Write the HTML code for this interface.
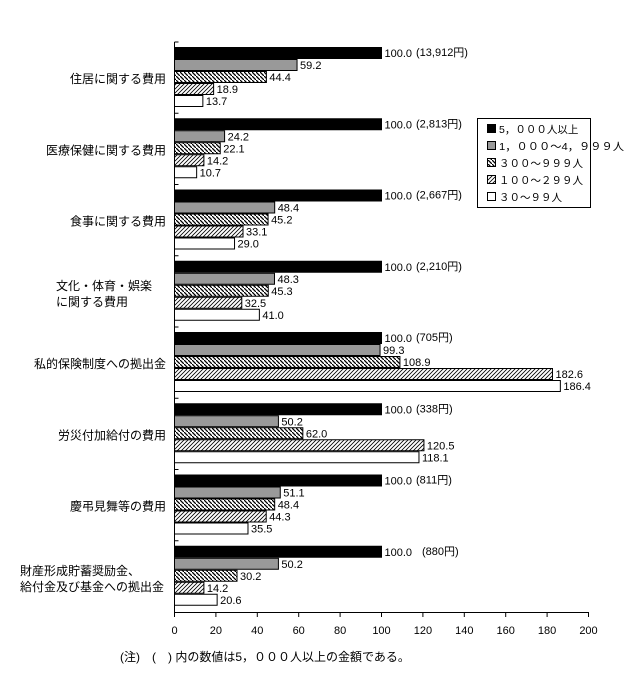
<!DOCTYPE html>
<html><head><meta charset="utf-8">
<style>
body{margin:0;background:#fff;}
svg text{font-family:"Liberation Sans","Noto Sans CJK JP",sans-serif;fill:#000;}
</style></head>
<body>
<svg id="s" width="641" height="669" xmlns="http://www.w3.org/2000/svg">
<defs>
<pattern id="hd" width="4" height="4" patternUnits="userSpaceOnUse">
<rect width="4" height="4" fill="#fff"/>
<path d="M-1,1 L1,-1 M0,0 L4,4 M3,5 L5,3" stroke="#000" stroke-width="1.3"/>
</pattern>
<pattern id="hl" width="4" height="4" patternUnits="userSpaceOnUse">
<rect width="4" height="4" fill="#fff"/>
<path d="M-1,1 L1,-1 M0,4 L4,0 M3,5 L5,3" stroke="#000" stroke-width="0.8"/>
</pattern>
</defs>
</svg>
<script>
const s=document.getElementById('s');
let h='';
const X0=174.5,K=2.07;
const fills=['#000','#999','url(#hd)','url(#hl)','#fff'];
const data=[
 [[100,59.2,44.4,18.9,13.7],'(13,912円)',['住居に関する費用']],
 [[100,24.2,22.1,14.2,10.7],'(2,813円)',['医療保健に関する費用']],
 [[100,48.4,45.2,33.1,29.0],'(2,667円)',['食事に関する費用']],
 [[100,48.3,45.3,32.5,41.0],'(2,210円)',['文化・体育・娯楽','に関する費用']],
 [[100,99.3,108.9,182.6,186.4],'(705円)',['私的保険制度への拠出金']],
 [[100,50.2,62.0,120.5,118.1],'(338円)',['労災付加給付の費用']],
 [[100,51.1,48.4,44.3,35.5],'(811円)',['慶弔見舞等の費用']],
 [[100,50.2,30.2,14.2,20.6],'(880円)',['財産形成貯蓄奨励金、','給付金及び基金への拠出金']]
];
data.forEach((g,i)=>{
 const top=42+71.25*i;
 h+=`<line x1="${X0}" y1="${top}" x2="${X0+4}" y2="${top}" stroke="#000"/>`;
 g[0].forEach((v,j)=>{
  const y=top+5+j*12, w=v*K;
  h+=`<rect x="${X0}" y="${y+0.5}" width="${w}" height="11" fill="${fills[j]}" stroke="#000" stroke-width="1"/>`;
  h+=`<text x="${X0+w+3}" y="${y+10}" font-size="11">${v.toFixed(1)}</text>`;
 });
 h+=`<text x="${i==7?422:416}" y="${top+14}" font-size="11">${g[1]}</text>`;
 const cy=top+36;
 if(g[2].length==1){h+=`<text x="166" y="${cy+5}" font-size="12" text-anchor="end">${g[2][0]}</text>`;}
 else if(i==3){h+=`<text x="56" y="${cy-2}" font-size="12">${g[2][0]}</text><text x="56" y="${cy+14}" font-size="12">${g[2][1]}</text>`;}
 else{h+=`<text x="20" y="${cy-2}" font-size="12">${g[2][0]}</text><text x="20" y="${cy+14}" font-size="12">${g[2][1]}</text>`;}
});
h+=`<line x1="${X0}" y1="42" x2="${X0}" y2="612.5" stroke="#000"/>`;
h+=`<line x1="${X0}" y1="612.5" x2="588" y2="612.5" stroke="#000"/>`;
for(let t=0;t<=200;t+=20){const x=X0+t*K;h+=`<line x1="${x}" y1="612" x2="${x}" y2="617" stroke="#000"/><text x="${x}" y="634" font-size="11" text-anchor="middle">${t}</text>`;}
h+=`<text x="120" y="661" font-size="12">(注)　(　) 内の数値は5，０００人以上の金額である。</text>`;
h+=`<rect x="477.5" y="118.5" width="113" height="89" fill="#fff" stroke="#000"/>`;
const leg=['5，０００人以上','1，０００～4，９９９人','３００～９９９人','１００～２９９人','３０～９９人'];
leg.forEach((l,j)=>{const y=124+j*17;h+=`<rect x="487.5" y="${y+0.5}" width="8" height="8" fill="${fills[j]}" stroke="#000"/><text x="499" y="${y+9}" font-size="10.5" ${j==1?'textLength="125" lengthAdjust="spacingAndGlyphs"':''}>${l}</text>`;});
s.insertAdjacentHTML('beforeend',h);
</script>
</body></html>
